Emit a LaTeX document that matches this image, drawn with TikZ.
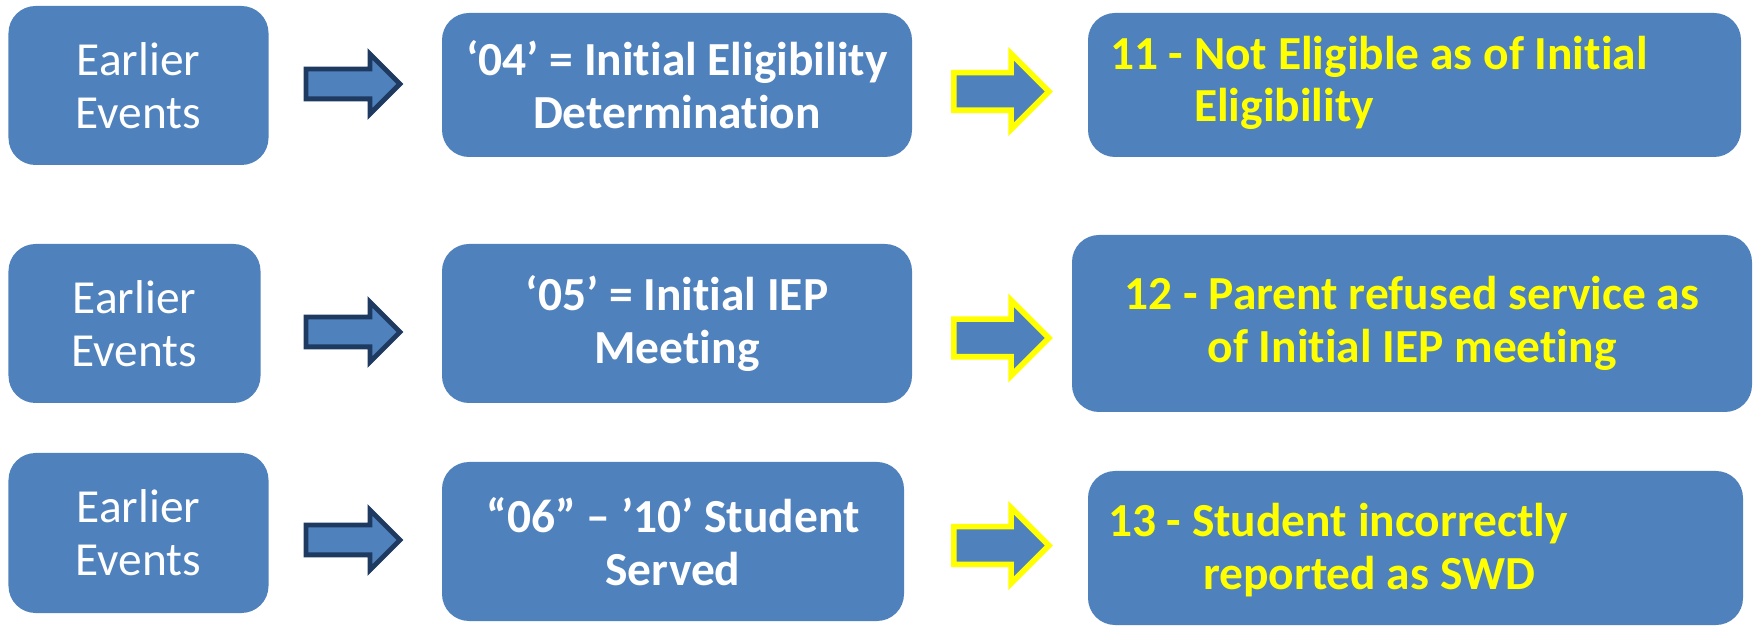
\documentclass[tikz,border=0pt]{standalone}
\usepackage{fontspec}
\setmainfont{Carlito}[Ligatures={TeX,NoCommon}]
\usepackage{xcolor}
\usetikzlibrary{shapes,arrows,arrows.meta}
\usetikzlibrary{calc}

\definecolor{boxblue}{HTML}{4F81BD}
\definecolor{navy}{HTML}{1F3A60}
\definecolor{hiyellow}{HTML}{FFFF00}

\begin{document}
\begin{tikzpicture}

\def\rad{2.7mm}
\def\fs{\fontsize{13.5}{15}\selectfont}
\tikzstyle{evbox} = [
	fill=boxblue, rounded corners=\rad, inner sep=0pt,
	text=white, align=center, font=\fs ];
\tikzstyle{codebox} = [evbox, font=\fs\bfseries];
\tikzstyle{exitbox} = [fill=boxblue, rounded corners=\rad, inner sep=0pt];
\tikzstyle{exittext} = [text=hiyellow, inner sep=0pt, font=\fs\bfseries];
\tikzstyle{darrow} = [
	single arrow, draw=navy, fill=boxblue, line width=1.4pt,
	inner xsep=0pt, inner ysep=1.25mm,
	minimum height=9.4mm, minimum width=5.5mm, single arrow head extend=1.5mm ];
\tikzstyle{yarrow} = [darrow, draw=hiyellow, line width=1.6pt, inner ysep=1.6mm,
	minimum height=9.5mm, minimum width=7mm, single arrow head extend=1.9mm];

\useasboundingbox (0,0) rectangle (17.55,-6.27);

% earlier events
\node[evbox,minimum width=2.60cm,minimum height=1.59cm] (ev1) at (1.385,-0.855) {Earlier\\Events};
\node[evbox,minimum width=2.52cm,minimum height=1.59cm] (ev2) at (1.345,-3.235) {Earlier\\Events};
\node[evbox,minimum width=2.60cm,minimum height=1.60cm] (ev3) at (1.385,-5.33) {Earlier\\Events};

% event codes
\node[codebox,minimum width=4.70cm,minimum height=1.44cm] (cd1) at (6.77,-0.85) {‘04’ = Initial Eligibility\\Determination};
\node[codebox,minimum width=4.70cm,minimum height=1.59cm] (cd2) at (6.77,-3.235) {‘05’ = Initial IEP\\Meeting};
\node[codebox,minimum width=4.62cm,minimum height=1.59cm] (cd3) at (6.73,-5.415) {“06” – ’10’ Student\\Served};

% exit reasons
\node[exitbox,minimum width=6.53cm,minimum height=1.44cm] (ex1) at (14.145,-0.85) {};
\node[exitbox,minimum width=6.80cm,minimum height=1.77cm] (ex2) at (14.12,-3.235) {};
\node[exitbox,minimum width=6.55cm,minimum height=1.54cm] (ex3) at (14.155,-5.48) {};

\node[exittext,anchor=west,align=left] (tx1) at ($(ex1.west)+(0.22,0.02)$) {11 - Not Eligible as of Initial\\\phantom{11 - }Eligibility};
\node[exittext,align=center] (tx2) at (ex2.center) {12 - Parent refused service as\\of Initial IEP meeting};
\node[exittext,anchor=west,align=left] (tx3) at ($(ex3.west)+(0.20,-0.02)$) {13 - Student incorrectly\\\hspace*{0.95cm}reported as SWD};

% arrows
\node[darrow] (da1) at (3.455,-0.84) {};
\node[darrow] (da2) at (3.455,-3.32) {};
\node[darrow] (da3) at (3.455,-5.40) {};
\node[yarrow] (ya1) at (9.92,-0.915) {};
\node[yarrow] (ya2) at (9.92,-3.38) {};
\node[yarrow] (ya3) at (9.92,-5.455) {};

\end{tikzpicture}
\end{document}
